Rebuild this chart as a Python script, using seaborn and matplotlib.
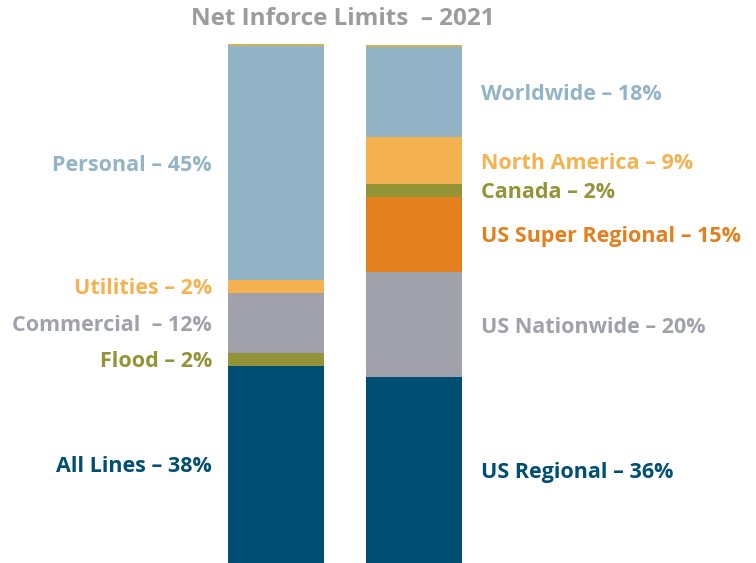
import seaborn as sns
import matplotlib.pyplot as plt
import pandas as pd

# left bar: line of business, bottom to top
lob_labels = ["All Lines – 38%", "Flood – 2%", "Commercial  – 12%", "Utilities – 2%", "Personal – 45%", ""]
lob_values = [38.0, 2.5, 11.6, 2.5, 45.1, 0.4]
lob_colors = ["#004E73", "#939437", "#A1A1AC", "#F4B350", "#93B4C6", "#D4B45A"]

# right bar: geography, bottom to top
geo_labels = ["US Regional – 36%", "US Nationwide – 20%", "US Super Regional – 15%", "Canada – 2%",
              "North America – 9%", "Worldwide – 18%", ""]
geo_values = [35.8, 20.2, 14.6, 2.5, 8.9, 17.5, 0.4]
geo_colors = ["#004E73", "#A1A1AC", "#E47F1D", "#939437", "#F4B350", "#93B4C6", "#D4B45A"]

bars = ["lob", "geo"]

sns.set_theme()
sns.set_style("white")
plt.rcParams["font.family"] = ["Open Sans", "DejaVu Sans"]

fig = plt.figure(figsize=(7.56, 5.63), dpi=100)
ax = fig.add_axes([0, 0, 1, 519 / 563])


def draw_stack(ax, bar, values, colors, labels, side):
    df = pd.DataFrame({"bar": bar, "value": values, "color": colors, "label": labels})
    df["top"] = df["value"].cumsum()
    df["mid"] = df["top"] - df["value"] / 2
    # draw tallest first so lower segments sit on top
    for _, row in df[::-1].iterrows():
        sns.barplot(x=[bar], y=[row["top"]], order=bars, color=row["color"],
                    width=0.696, saturation=1, linewidth=0, ax=ax)
    xpos = bars.index(bar)
    for _, row in df.iterrows():
        if not row["label"]:
            continue
        if side == "left":
            ax.text(xpos - 0.464, row["mid"], row["label"], ha="right", va="center_baseline",
                    color=row["color"], fontsize=15.5, fontweight="bold", clip_on=False)
        else:
            ax.text(xpos + 0.486, row["mid"], row["label"], ha="left", va="center_baseline",
                    color=row["color"], fontsize=15.5, fontweight="bold", clip_on=False)


draw_stack(ax, "lob", lob_values, lob_colors, lob_labels, "left")
draw_stack(ax, "geo", geo_values, geo_colors, geo_labels, "right")

ax.set_xlim(-2, -2 + 756 / 138)
ax.set_ylim(0, 100)
ax.axis("off")

fig.text(343 / 756, 1 - 19 / 563, "Net Inforce Limits  – 2021", ha="center", va="center",
         color="#9C9C9C", fontsize=17.5, fontweight="bold")

plt.savefig("out.png", dpi=100)
